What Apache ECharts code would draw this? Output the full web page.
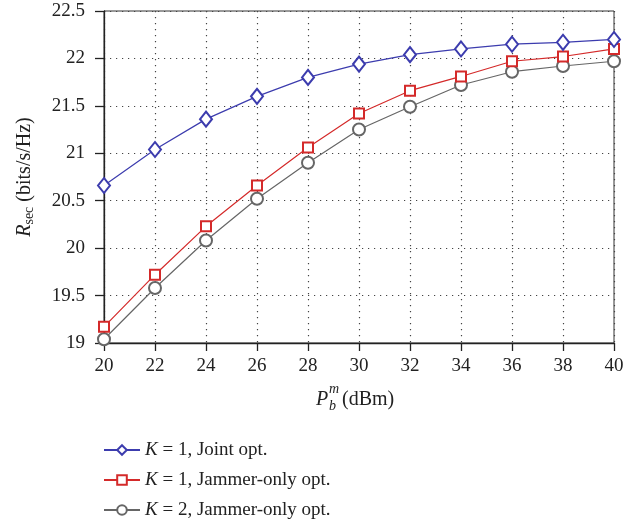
<!DOCTYPE html>
<html>
<head>
<meta charset="utf-8">
<script src="https://cdn.jsdelivr.net/npm/echarts@6/dist/echarts.min.js"></script>
<style>html,body{margin:0;padding:0;background:#fff;}#c{width:638px;height:526px;}</style>
</head>
<body>
<div id="c"></div>
<script>
var powers = [20, 22, 24, 26, 28, 30, 32, 34, 36, 38, 40];
var jointK1 = [20.66, 21.04, 21.36, 21.60, 21.80, 21.94, 22.04, 22.10, 22.15, 22.17, 22.20];
var jammerK1 = [19.17, 19.72, 20.23, 20.66, 21.06, 21.42, 21.66, 21.81, 21.97, 22.02, 22.10];
var jammerK2 = [19.04, 19.58, 20.08, 20.52, 20.90, 21.25, 21.49, 21.72, 21.86, 21.92, 21.97];
var seriesNames = ['K1 Joint', 'K1 Jammer', 'K2 Jammer'];
var legendLabels = ['{i|K} = 1, Joint opt.', '{i|K} = 1, Jammer-only opt.', '{i|K} = 2, Jammer-only opt.'];

var FONT = '"Liberation Serif", "DejaVu Serif", serif';
function pairs(vals) { return powers.map(function (p, i) { return [p, vals[i]]; }); }

var chart = echarts.init(document.getElementById('c'), null, {renderer: 'canvas'});
var colors = ['#3c3cae', '#d42a2a', '#666666'];
var symbols = ['emptyDiamond', 'emptyRect', 'emptyCircle'];
var sizes = [[12, 15], 10, 12];
var data = [jointK1, jammerK1, jammerK2];

chart.setOption({
  animation: false,
  backgroundColor: '#fff',
  grid: {left: 104, right: 24, top: 11, bottom: 183, show: true, borderColor: '#333', borderWidth: 1},
  xAxis: {
    type: 'value', min: 20, max: 40, interval: 2,
    axisLine: {lineStyle: {color: '#222', width: 1.3}},
    axisTick: {length: 8, lineStyle: {color: '#222', width: 1.3}},
    axisLabel: {margin: 14, color: '#222', fontFamily: FONT, fontSize: 19},
    splitLine: {show: true, lineStyle: {color: '#444', type: [1.2, 4.8], width: 1.2}}
  },
  yAxis: {
    type: 'value', min: 19, max: 22.5, interval: 0.5,
    axisLine: {show: true, lineStyle: {color: '#222', width: 1.3}},
    axisTick: {show: true, length: 9, lineStyle: {color: '#222', width: 1.3}},
    axisLabel: {margin: 19, color: '#222', fontFamily: FONT, fontSize: 19},
    splitLine: {show: true, lineStyle: {color: '#444', type: [1.2, 4.8], width: 1.2}},
    name: '{R|R}{s|sec} (bits/s/Hz)',
    nameLocation: 'middle', nameRotate: 90, nameGap: 68,
    nameTextStyle: {
      color: '#222', fontFamily: FONT, fontSize: 20,
      rich: {
        R: {fontFamily: FONT, fontSize: 20, fontStyle: 'italic', color: '#222', lineHeight: 22},
        s: {fontFamily: FONT, fontSize: 14, color: '#222', lineHeight: 10, verticalAlign: 'bottom'}
      }
    }
  },
  legend: {
    orient: 'vertical', left: 98, top: 435, itemWidth: 36, itemHeight: 12, itemGap: 10,
    data: seriesNames,
    formatter: function (name) { return legendLabels[seriesNames.indexOf(name)]; },
    textStyle: {
      color: '#222', fontFamily: FONT, fontSize: 19, lineHeight: 20,
      rich: {i: {fontFamily: FONT, fontSize: 19, fontStyle: 'italic', color: '#222'}}
    }
  },
  graphic: [
    {type: 'text', left: 316, top: 390, style: {text: 'P', font: 'italic 20px ' + FONT, fill: '#222'}},
    {type: 'text', left: 329, top: 382, style: {text: 'm', font: 'italic 14px ' + FONT, fill: '#222'}},
    {type: 'text', left: 329, top: 399, style: {text: 'b', font: 'italic 14px ' + FONT, fill: '#222'}},
    {type: 'text', left: 342, top: 390, style: {text: '(dBm)', font: '20px ' + FONT, fill: '#222'}}
  ],
  series: seriesNames.map(function (n, k) {
    return {
      name: n, type: 'line', data: pairs(data[k]),
      symbol: symbols[k], symbolSize: sizes[k],
      lineStyle: {color: colors[k], width: 1.2},
      itemStyle: {color: colors[k], borderColor: colors[k], borderWidth: 1.3},
      z: 3 - k
    };
  })
});
</script>
</body>
</html>
